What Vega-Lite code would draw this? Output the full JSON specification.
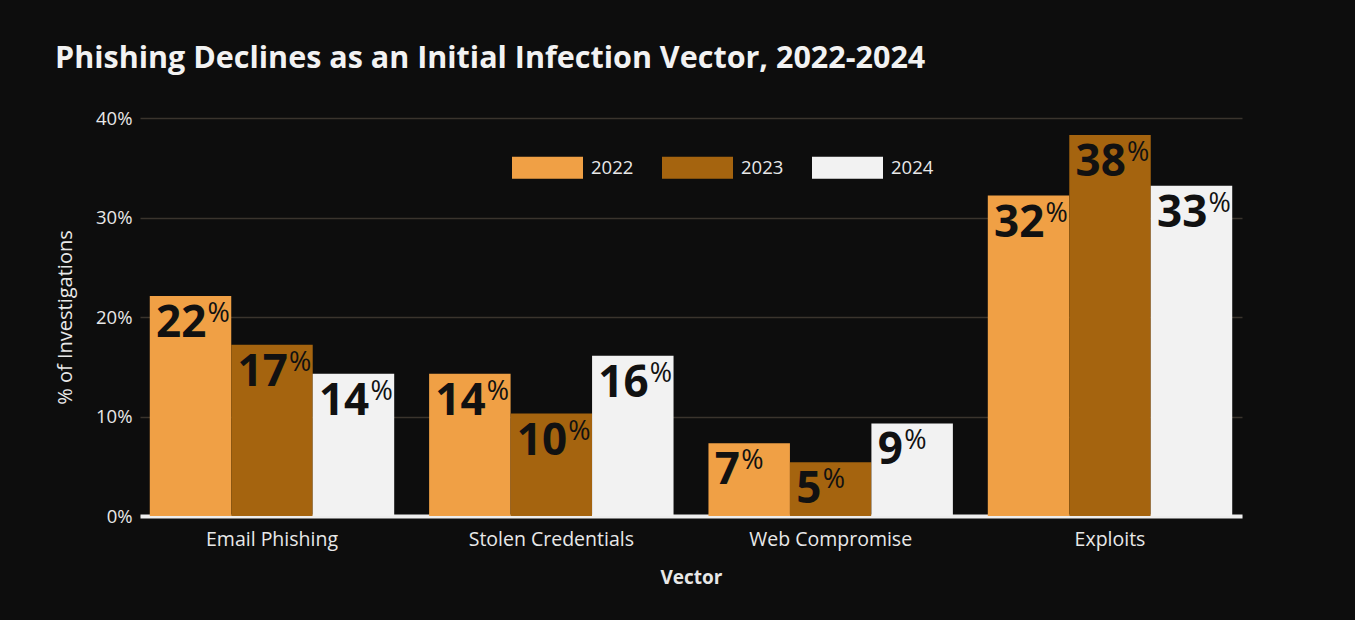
{
  "$schema": "https://vega.github.io/schema/vega-lite/v6.json",
  "autosize": {"type": "none"},
  "width": 1102,
  "height": 398,
  "padding": {"left": 140, "top": 118, "right": 113, "bottom": 104},
  "background": "#0d0d0d",
  "title": {
    "text": "Phishing Declines as an Initial Infection Vector, 2022-2024",
    "anchor": "start",
    "frame": "group",
    "dx": -85,
    "offset": 35,
    "font": "Open Sans",
    "fontSize": 30.5,
    "fontWeight": "bold",
    "color": "#f2f2f2"
  },
  "config": {
    "view": {"stroke": null},
    "font": "Open Sans",
    "axis": {"labelFont": "Open Sans", "titleFont": "Open Sans"},
    "legend": {"labelFont": "Open Sans"}
  },
  "data": {
    "values": [
      {"vector": "Email Phishing", "year": "2022", "value": 22.1},
      {"vector": "Email Phishing", "year": "2023", "value": 17.2},
      {"vector": "Email Phishing", "year": "2024", "value": 14.3},
      {"vector": "Stolen Credentials", "year": "2022", "value": 14.3},
      {"vector": "Stolen Credentials", "year": "2023", "value": 10.3},
      {"vector": "Stolen Credentials", "year": "2024", "value": 16.1},
      {"vector": "Web Compromise", "year": "2022", "value": 7.3},
      {"vector": "Web Compromise", "year": "2023", "value": 5.4},
      {"vector": "Web Compromise", "year": "2024", "value": 9.3},
      {"vector": "Exploits", "year": "2022", "value": 32.2},
      {"vector": "Exploits", "year": "2023", "value": 38.3},
      {"vector": "Exploits", "year": "2024", "value": 33.2}
    ]
  },
  "encoding": {
    "x": {
      "field": "vector",
      "type": "nominal",
      "sort": ["Email Phishing", "Stolen Credentials", "Web Compromise", "Exploits"],
      "scale": {"paddingInner": 0.125, "paddingOuter": 0.035},
      "axis": {
        "title": "Vector",
        "labelAngle": 0,
        "labelFontSize": 19.5,
        "labelColor": "#e8e8e8",
        "labelPadding": 14,
        "ticks": false,
        "domainColor": "#eeeeee",
        "domainWidth": 4,
        "titleFontSize": 19,
        "titleFontWeight": "bold",
        "titleColor": "#e8e8e8",
        "titlePadding": 20
      }
    },
    "xOffset": {"field": "year", "type": "nominal", "scale": {"paddingInner": 0, "paddingOuter": 0}},
    "y": {
      "field": "value",
      "type": "quantitative",
      "scale": {"domain": [0, 40]},
      "axis": {
        "title": "% of Investigations",
        "values": [0, 10, 20, 30, 40],
        "labelExpr": "datum.value + '%'",
        "labelFontSize": 18.5,
        "labelColor": "#e8e8e8",
        "labelPadding": 8,
        "ticks": false,
        "domain": false,
        "gridColor": "#3a342d",
        "gridWidth": 1.5,
        "titleFontSize": 20,
        "titleFontWeight": "normal",
        "titleColor": "#e8e8e8",
        "titlePadding": 20
      }
    }
  },
  "layer": [
    {
      "mark": {"type": "bar"},
      "encoding": {
        "color": {
          "field": "year",
          "type": "nominal",
          "scale": {"domain": ["2022", "2023", "2024"], "range": ["#f0a045", "#a5640f", "#f2f2f2"]},
          "legend": {
            "title": null,
            "orient": "none",
            "direction": "horizontal",
            "legendX": 372,
            "legendY": 14,
            "symbolType": "M-1,-0.31H1V0.31H-1Z",
            "symbolSize": 5041,
            "symbolStrokeWidth": 0,
            "symbolOpacity": 1,
            "labelFontSize": 18.5,
            "labelColor": "#e8e8e8",
            "labelOffset": 8,
            "columnPadding": 28
          }
        }
      }
    },
    {
      "mark": {
        "type": "text",
        "align": "left",
        "baseline": "alphabetic",
        "dx": -34.5,
        "dy": 41,
        "font": "Open Sans",
        "fontSize": 44,
        "fontWeight": "bold",
        "color": "#111111"
      },
      "encoding": {
        "text": {"field": "value", "type": "quantitative", "format": ".0f"}
      }
    },
    {
      "mark": {
        "type": "text",
        "text": "%",
        "align": "left",
        "baseline": "alphabetic",
        "dx": {"expr": "datum.value >= 9.5 ? 17 : -8"},
        "dy": 26,
        "font": "Open Sans",
        "fontSize": 27,
        "fontWeight": "normal",
        "color": "#111111"
      }
    }
  ]
}
